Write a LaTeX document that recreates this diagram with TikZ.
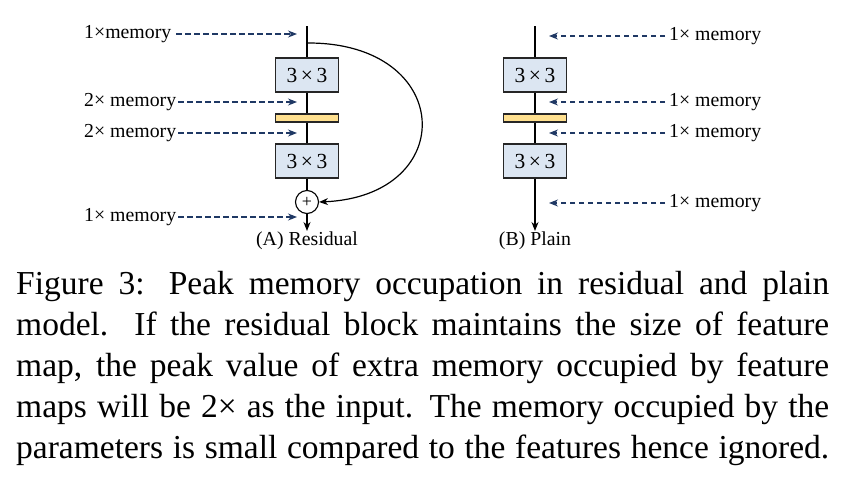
\documentclass[tikz,border=0pt]{standalone}
\usepackage{fontspec}
\setmainfont{Liberation Serif}
\usetikzlibrary{arrows.meta}
\definecolor{boxblue}{HTML}{DCE6F2}
\definecolor{baryellow}{HTML}{FFE08F}
\definecolor{navy}{HTML}{1F3864}
\begin{document}
\begin{tikzpicture}[x=1pt,y=-1pt,
  conv/.style={draw=black!85, fill=boxblue, line width=1.1pt, minimum width=63pt, minimum height=34pt, inner sep=0pt, font=\fontsize{21.5}{24}\selectfont},
  bnbar/.style={draw=black!85, fill=baryellow, line width=1.1pt, minimum width=63pt, minimum height=8pt, inner sep=0pt},
  flow/.style={line width=1.2pt, black},
  flowarrow/.style={flow, -{Stealth[length=9pt,width=7pt]}},
  mem/.style={navy, line width=1.1pt, dash pattern=on 5.5pt off 3.5pt, -{Stealth[length=9pt,width=7pt]}},
  lab/.style={font=\fontsize{19.8}{22}\selectfont, inner sep=0pt},
  capline/.style={font=\fontsize{33.5}{40}\selectfont, inner sep=0pt, anchor=base west}]
\useasboundingbox (0,0) rectangle (859,496);

% ---------- Residual ----------
\coordinate (rtop) at (307,26);
\coordinate (rsplit) at (307,43);
\node[conv] (rc1) at (307,75) {3\,×\,3};
\node[bnbar] (rbn) at (307,118) {};
\node[conv] (rc2) at (307,161) {3\,×\,3};
\node[draw, circle, line width=1.1pt, minimum size=23pt, inner sep=0pt, fill=white, font=\fontsize{18}{20}\selectfont] (plus) at (307,202) {+};
\coordinate (rend) at (307,231);
\node[lab, anchor=north] (rcap) at (307,232) {(A) Residual};

\draw[flow] (rtop) -- (rc1.north);
\draw[flow] (rc1.south) -- (rbn.north);
\draw[flow] (rbn.south) -- (rc2.north);
\draw[flow] (rc2.south) -- (plus.north);
\draw[flowarrow] (plus.south) -- (rend);
\draw[flow, -{Stealth[length=9pt,width=7pt]}] (rsplit) .. controls (455,42) and (460,196) .. (plus.east);

\node[lab, anchor=west] (rm1) at (84,34) {1×memory};
\node[lab, anchor=west] (rm2) at (84,102) {2× memory};
\node[lab, anchor=west] (rm3) at (84,133) {2× memory};
\node[lab, anchor=west] (rm4) at (84,217) {1× memory};
\coordinate (rt1) at (297,34);
\coordinate (rt2) at (297,102);
\coordinate (rt3) at (297,133);
\coordinate (rt4) at (297,217);
\draw[mem] ([xshift=5pt]rm1.east) -- (rt1);
\draw[mem] ([xshift=2pt]rm2.east) -- (rt2);
\draw[mem] ([xshift=2pt]rm3.east) -- (rt3);
\draw[mem] ([xshift=2pt]rm4.east) -- (rt4);

% ---------- Plain ----------
\coordinate (ptop) at (535,26);
\node[conv] (pc1) at (535,75) {3\,×\,3};
\node[bnbar] (pbn) at (535,118) {};
\node[conv] (pc2) at (535,161) {3\,×\,3};
\coordinate (pend) at (535,231);
\node[lab, anchor=north] (pcap) at (535,232) {(B) Plain};

\draw[flow] (ptop) -- (pc1.north);
\draw[flow] (pc1.south) -- (pbn.north);
\draw[flow] (pbn.south) -- (pc2.north);
\draw[flowarrow] (pc2.south) -- (pend);

\node[lab, anchor=west] (pm1) at (669,36) {1× memory};
\node[lab, anchor=west] (pm2) at (669,102) {1× memory};
\node[lab, anchor=west] (pm3) at (669,133) {1× memory};
\node[lab, anchor=west] (pm4) at (669,203) {1× memory};
\coordinate (pt1) at (549,36);
\coordinate (pt2) at (549,102);
\coordinate (pt3) at (549,133);
\coordinate (pt4) at (549,203);
\draw[mem] ([xshift=-4pt]pm1.west) -- (pt1);
\draw[mem] ([xshift=-4pt]pm2.west) -- (pt2);
\draw[mem] ([xshift=-4pt]pm3.west) -- (pt3);
\draw[mem] ([xshift=-4pt]pm4.west) -- (pt4);

% ---------- Caption ----------
\node[capline] (l1) at (16,294.0) {\makebox[813pt][s]{Figure 3: Peak memory occupation in residual and plain}};
\node[capline] (l2) at (16,335.2) {\makebox[813pt][s]{model.  If the residual block maintains the size of feature}};
\node[capline] (l3) at (16,376.4) {\makebox[813pt][s]{map, the peak value of extra memory occupied by feature}};
\node[capline] (l4) at (16,417.6) {\makebox[813pt][s]{maps will be 2× as the input. The memory occupied by the}};
\node[capline] (l5) at (16,458.8) {\makebox[813pt][s]{parameters is small compared to the features hence ignored.}};
\end{tikzpicture}
\end{document}
